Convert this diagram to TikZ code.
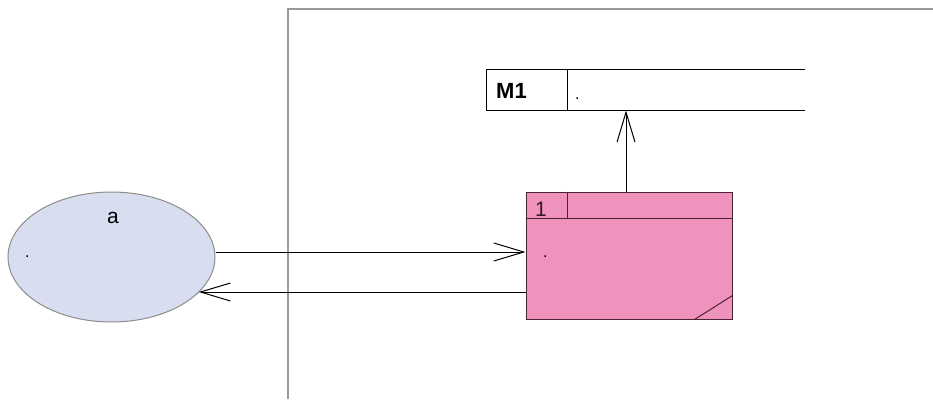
\documentclass[tikz,border=0pt]{standalone}
\usepackage{fontspec}
\setmainfont{Liberation Sans}
\usetikzlibrary{shapes.geometric,arrows.meta,calc}
\definecolor{pinkfill}{HTML}{F092BE}
\definecolor{pinkline}{HTML}{4A2430}
\definecolor{ellfill}{HTML}{D8DEEF}
\definecolor{ellline}{HTML}{8C8C8C}
\definecolor{framecol}{HTML}{9A9A9A}
\tikzset{
  conn/.style={line width=1pt, black},
  arr/.style={conn, -{Straight Barb[length=30pt,width=18pt,line width=1pt]}},
  txt/.style={inner sep=0pt, font=\fontsize{21}{24}\selectfont},
  dot/.style={inner sep=0pt, font=\fontsize{16}{18}\selectfont},
  usecase/.style={ellipse, draw=ellline, fill=ellfill, line width=1pt, minimum width=207pt, minimum height=130pt, inner sep=0pt},
  procbox/.style={rectangle, draw=pinkline, fill=pinkfill, line width=1pt, minimum width=206pt, minimum height=127pt, inner sep=0pt},
  storebox/.style={rectangle, draw=none, minimum width=319pt, minimum height=41pt, inner sep=0pt, anchor=north west},
}
\begin{document}
\begin{tikzpicture}[x=1pt,y=-1pt]
\useasboundingbox (0,0) rectangle (933,399);
% frame
\coordinate (fbl) at (288,399);
\coordinate (ftl) at (288,9);
\coordinate (ftr) at (933,9);
\draw[framecol, line width=2pt] (fbl) -- (ftl) -- (ftr);
% data store M1
\node[storebox] (store) at (486,69) {};
\coordinate (sdivt) at ($(store.north west)+(81,0)$);
\coordinate (sdivb) at ($(store.south west)+(81,0)$);
\draw[conn] (store.north east) -- (store.north west) -- (store.south west) -- (store.south east);
\draw[conn] (sdivt) -- (sdivb);
\node[txt, font=\fontsize{22}{24}\selectfont\bfseries, anchor=base west] (m1) at (496,98) {M1};
\node[dot, anchor=base west] (sdot) at (575,99) {.};
% process box
\node[procbox] (proc) at (629,255.5) {};
\coordinate (hl) at ($(proc.north west)+(0,27)$);
\coordinate (hr) at ($(proc.north east)+(0,27)$);
\coordinate (hd) at ($(proc.north west)+(42,0)$);
\draw[pinkline, line width=1pt] (hl) -- (hr);
\draw[pinkline, line width=1pt] (hd) -- (hd |- hl);
\coordinate (dg1) at ($(proc.south east)+(-38,0)$);
\coordinate (dg2) at ($(proc.south east)+(0,-24)$);
\draw[pinkline, line width=1pt] (dg1) -- (dg2);
\node[txt, text=pinkline!70!black, anchor=base west] (pnum) at (535,216) {1};
\node[dot, anchor=base west] (pdot) at (543,257) {.};
% external entity ellipse
\node[usecase] (ell) at (111.5,257) {};
\node[txt, anchor=base] (ea) at (113,223) {a};
\node[dot, anchor=base west] (edot) at (25,257) {.};
% connectors
\coordinate (ux) at (626,0);
\draw[arr] (proc.north -| ux) -- (store.south -| ux);
\coordinate (r1) at ($(ell.east)+(0,-5)$);
\draw[arr] (r1) -- (r1 -| proc.west);
\coordinate (l1) at ($(proc.west)+(0,36.5)$);
\coordinate (l1end) at ($(ell.center)+(87.2,35)$);
\draw[arr] (l1) -- (l1end);
\end{tikzpicture}
\end{document}
